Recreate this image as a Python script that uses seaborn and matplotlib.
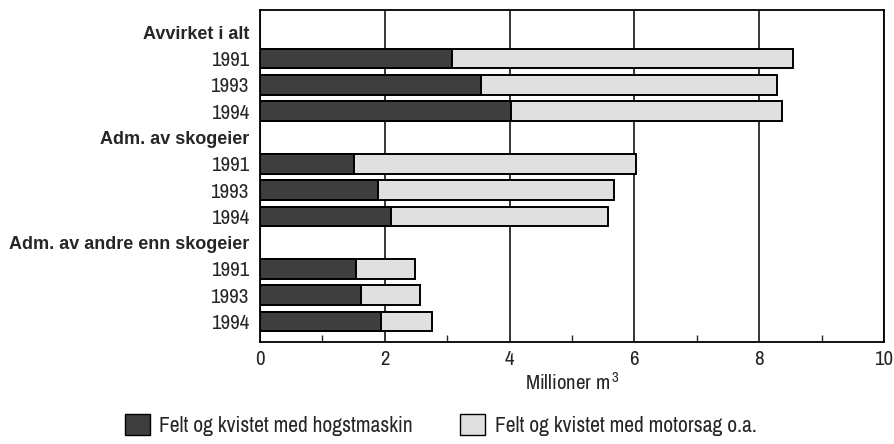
import matplotlib
matplotlib.use("Agg")
import matplotlib.pyplot as plt
import seaborn as sns
import pandas as pd
from matplotlib.patches import Patch
from matplotlib.ticker import MultipleLocator

groups = ["Avvirket i alt", "Adm. av skogeier", "Adm. av andre enn skogeier"]
years = ["1991", "1993", "1994"]
hogstmaskin = {
    "Avvirket i alt": [3.07, 3.54, 4.03],
    "Adm. av skogeier": [1.50, 1.89, 2.10],
    "Adm. av andre enn skogeier": [1.54, 1.62, 1.94],
}
motorsag = {
    "Avvirket i alt": [5.47, 4.74, 4.33],
    "Adm. av skogeier": [4.53, 3.79, 3.48],
    "Adm. av andre enn skogeier": [0.94, 0.95, 0.81],
}
series_labels = ["Felt og kvistet med hogstmaskin", "Felt og kvistet med motorsag o.a."]

sns.set_style("white")
font = ["Archivo Narrow", "Liberation Sans", "DejaVu Sans"]
plt.rcParams["font.family"] = font
plt.rcParams["mathtext.fontset"] = "custom"
plt.rcParams["mathtext.rm"] = "Archivo Narrow"
plt.rcParams["mathtext.it"] = "Archivo Narrow"

rows, order, labels, bold = [], [], [], []
for g in groups:
    order.append("H_" + g); labels.append(g); bold.append(True)
    for i, y in enumerate(years):
        key = g + "_" + y
        order.append(key); labels.append(y); bold.append(False)
        rows.append({"key": key, "dark": hogstmaskin[g][i],
                     "total": hogstmaskin[g][i] + motorsag[g][i]})
df = pd.DataFrame(rows)

W, H = 895, 444
fig = plt.figure(figsize=(W / 100, H / 100), dpi=100)
ax = fig.add_axes([260 / W, 1 - 342 / H, 624 / W, 332 / H])

dark_c = "#3e3e3e"
light_c = "#e0e0e0"
sns.barplot(data=df, y="key", x="total", order=order, orient="h", color=light_c,
            width=0.74, edgecolor="black", linewidth=1.4, saturation=1, ax=ax, zorder=3)
sns.barplot(data=df, y="key", x="dark", order=order, orient="h", color=dark_c,
            width=0.74, edgecolor="black", linewidth=1.4, saturation=1, ax=ax, zorder=4)

ax.set_xlim(0, 10)
ax.set_ylim(11.78, -0.85)
ax.xaxis.set_major_locator(MultipleLocator(2))
ax.xaxis.set_minor_locator(MultipleLocator(1))
ax.grid(axis="x", which="major", color="black", linewidth=1.1, zorder=0)
ax.set_axisbelow(True)
ax.tick_params(axis="x", which="major", length=0, labelsize=15, pad=6)
ax.tick_params(axis="x", which="minor", direction="in", length=5, width=1, bottom=True)
ax.set_yticks(range(len(order)))
ax.set_yticklabels(labels)
ax.tick_params(axis="y", length=0, labelsize=15, pad=8)
for t, b in zip(ax.get_yticklabels(), bold):
    if b:
        t.set_fontfamily(["Liberation Sans", "DejaVu Sans"])
        t.set_fontweight("bold")
        t.set_fontsize(13)
for s in ax.spines.values():
    s.set_visible(True)
    s.set_color("black")
    s.set_linewidth(1.3)
ax.set_ylabel("")
ax.set_xlabel("Millioner m$^{\\,3}$", fontsize=15, labelpad=2)

handles = [Patch(facecolor=dark_c, edgecolor="black", linewidth=1.0),
           Patch(facecolor=light_c, edgecolor="black", linewidth=1.0)]
fig.legend(handles, series_labels, loc="upper left", bbox_to_anchor=(125 / W, 1 - 414 / H),
           ncol=2, frameon=False, fontsize=15.5, handlelength=1.15, handleheight=1.15,
           handletextpad=0.45, columnspacing=2.2, borderpad=0, borderaxespad=0)

fig.savefig("out.png", dpi=100)
